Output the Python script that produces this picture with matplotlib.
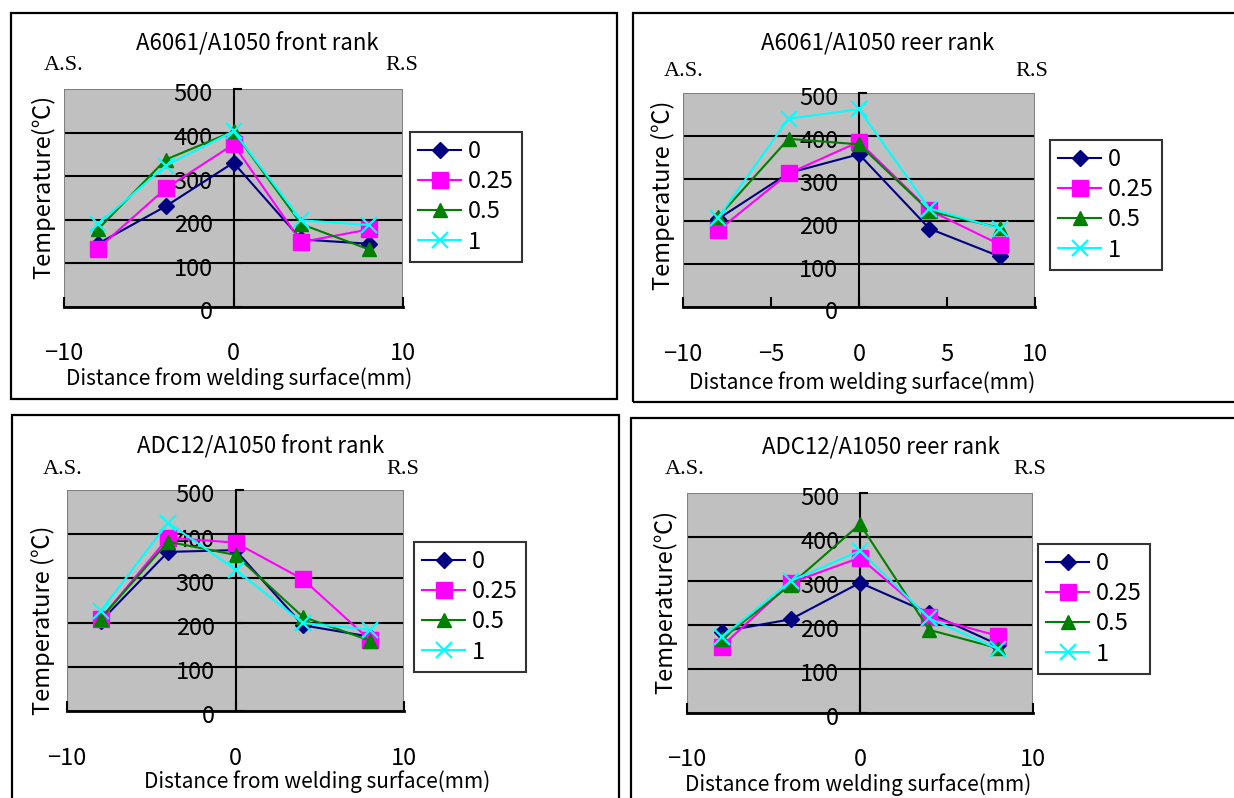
import matplotlib
matplotlib.use('Agg')
import matplotlib.pyplot as plt
import matplotlib.transforms as mtransforms
from matplotlib.patches import Rectangle

plt.rcParams['font.family'] = ['Noto Sans CJK JP', 'DejaVu Sans']

# data
distance = [-8, -4, 0, 4, 8]
series_names = ['0', '0.25', '0.5', '1']

a6061_front = {
    '0':    [145, 231, 331, 155, 145],
    '0.25': [134, 272, 373, 149, 178],
    '0.5':  [178, 338, 403, 190, 132],
    '1':    [190, 324, 403, 199, 188],
}
a6061_reer = {
    '0':    [206, 313, 357, 183, 118],
    '0.25': [179, 312, 386, 226, 146],
    '0.5':  [210, 393, 380, 224, 185],
    '1':    [209, 440, 462, 230, 183],
}
adc12_front = {
    '0':    [203, 360, 364, 194, 168],
    '0.25': [209, 392, 381, 298, 160],
    '0.5':  [209, 383, 353, 213, 159],
    '1':    [226, 426, 320, 199, 184],
}
adc12_reer = {
    '0':    [185, 213, 296, 227, 155],
    '0.25': [151, 296, 353, 218, 175],
    '0.5':  [168, 292, 429, 189, 147],
    '1':    [172, 300, 369, 215, 145],
}

styles = {
    '0':    dict(color='#000080', marker='D', ms=8),
    '0.25': dict(color='#ff00ff', marker='s', ms=11),
    '0.5':  dict(color='#008000', marker='^', ms=10),
    '1':    dict(color='#00ffff', marker='x', ms=11, mew=1.6),
}

W, H = 1234, 798
fig = plt.figure(figsize=(W / 100, H / 100), dpi=100)


def fx(x):
    return x / W


def fy(y):
    return 1 - y / H


def panel(box, plot, data, title, ylabel, xticks, title_xy, as_xy, rs_xy,
          xlabel_xy, xtick_y, ylabel_xy, legend_xy):
    # outer chart frame
    bx0, by0, bx1, by1 = box
    fig.add_artist(Rectangle((fx(bx0), fy(by1)), fx(bx1 - bx0), (by1 - by0) / H,
                             transform=fig.transFigure, fill=False,
                             edgecolor='black', lw=1.6))
    l, t, r, b = plot
    ax = fig.add_axes([fx(l), fy(b), fx(r - l), (b - t) / H])
    ax.set_facecolor('#c0c0c0')
    ax.set_xlim(-10, 10)
    ax.set_ylim(0, 500)
    for v in [100, 200, 300, 400]:
        ax.axhline(v, color='black', lw=1.5, zorder=1)
    ax.add_patch(Rectangle((0, 0), 1, 1, transform=ax.transAxes, fill=False,
                           edgecolor='#808080', lw=1.5, zorder=1))
    for name in series_names:
        st = styles[name]
        ax.plot(distance, data[name], color=st['color'], lw=1.5,
                marker=st['marker'], ms=st['ms'], mew=st.get('mew', 1),
                label=name, zorder=3, clip_on=False)
    for s in ['top', 'right']:
        ax.spines[s].set_visible(False)
    ax.spines['left'].set_position(('data', 0))
    ax.spines['left'].set_linewidth(1.5)
    ax.spines['bottom'].set_linewidth(2)
    ax.spines['left'].set_zorder(2)
    ax.set_yticks([0, 100, 200, 300, 400, 500])
    ax.tick_params(axis='y', direction='in', length=6, width=1.5, pad=15,
                   labelsize=17)
    ax.set_xticks(xticks)
    ax.tick_params(axis='x', direction='in', length=7, width=1.5, labelsize=17,
                   pad=(xtick_y - b) * 0.72 - 7)
    shift = mtransforms.ScaledTranslation(0, -2.5 / 72, fig.dpi_scale_trans)
    for lab in ax.get_yticklabels():
        lab.set_transform(lab.get_transform() + shift)
    fig.text(fx(title_xy[0]), fy(title_xy[1]), title, ha='center', va='center',
             fontsize=16)
    fig.text(fx(as_xy[0]), fy(as_xy[1]), 'A.S.', ha='center', va='center',
             fontsize=16, family='Liberation Serif')
    fig.text(fx(rs_xy[0]), fy(rs_xy[1]), 'R.S', ha='center', va='center',
             fontsize=16, family='Liberation Serif')
    fig.text(fx(xlabel_xy[0]), fy(xlabel_xy[1]),
             'Distance from welding surface(mm)', ha='center', va='center',
             fontsize=15)
    fig.text(fx(ylabel_xy[0]), fy(ylabel_xy[1]), ylabel, ha='center',
             va='center', rotation=90, fontsize=17)
    leg = ax.legend(loc='upper left',
                    bbox_to_anchor=(fx(legend_xy[0]), fy(legend_xy[1])),
                    bbox_transform=fig.transFigure, fontsize=17, frameon=True,
                    fancybox=False, handlelength=1.8, labelspacing=0.3,
                    borderpad=0.35, handletextpad=0.3, borderaxespad=0)
    leg.get_frame().set_edgecolor('black')
    leg.get_frame().set_linewidth(1.5)
    return ax


panel((11, 13, 617, 399), (64, 89, 403, 307), a6061_front,
      'A6061/A1050 front rank', 'Temperature(℃)', [-10, 0, 10],
      (257, 43), (64, 65), (402, 65), (239, 379), 352, (43, 187), (410, 132))

panel((633, 13, 1245, 402), (683, 93, 1035, 307), a6061_reer,
      'A6061/A1050 reer rank', 'Temperature (℃)', [-10, -5, 0, 5, 10],
      (878, 43), (684, 72), (1032, 72), (862, 383), 353, (663, 195),
      (1050, 140))

panel((12, 415, 619, 810), (67, 490, 404, 711), adc12_front,
      'ADC12/A1050 front rank', 'Temperature (℃)', [-10, 0, 10],
      (261, 446), (63, 470), (403, 470), (317, 782), 757, (43, 620),
      (414, 542))

panel((631, 418, 1245, 810), (687, 493, 1033, 713), adc12_reer,
      'ADC12/A1050 reer rank', 'Temperature(℃)', [-10, 0, 10],
      (881, 447), (685, 470), (1030, 470), (858, 785), 758, (665, 602),
      (1038, 544))

fig.savefig('out.png', dpi=100)
